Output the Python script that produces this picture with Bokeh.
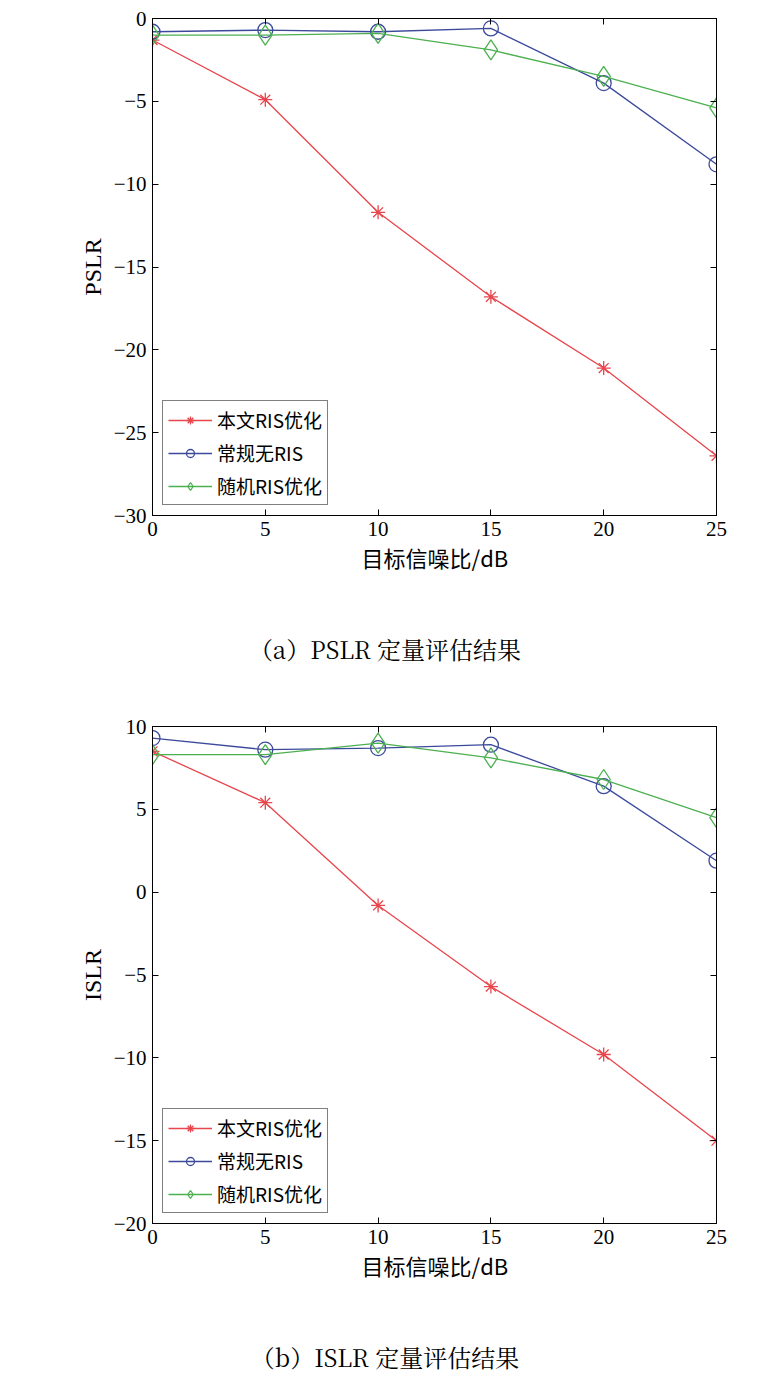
from bokeh.plotting import figure
from bokeh.layouts import column
from bokeh.models import Div, LinearAxis, Range1d, FixedTicker
from bokeh.embed import file_html
from bokeh.resources import INLINE

snr = [0, 5, 10, 15, 20, 25]
pslr_ours = [-1.3, -4.9, -11.7, -16.8, -21.1, -26.4]
pslr_noris = [-0.8, -0.7, -0.8, -0.6, -3.9, -8.8]
pslr_rand = [-1.0, -1.0, -0.9, -1.9, -3.5, -5.4]
islr_ours = [8.5, 5.4, -0.8, -5.7, -9.8, -15.0]
islr_noris = [9.3, 8.6, 8.7, 8.9, 6.4, 1.9]
islr_rand = [8.3, 8.3, 9.0, 8.1, 6.8, 4.5]
names = ["本文RIS优化", "常规无RIS", "随机RIS优化"]
xticks = [0, 5, 10, 15, 20, 25]
pslr_ticks = [-30, -25, -20, -15, -10, -5, 0]
islr_ticks = [-20, -15, -10, -5, 0, 5, 10]

RED, BLUE, GREEN = "#e8454c", "#3c4a9c", "#4cb050"
SERIF = "Liberation Serif"
CJK = "Noto Sans CJK SC"

def make(ylabel, series, yr, yt):
    p = figure(width=760, height=585, output_backend="svg", toolbar_location=None,
               x_range=Range1d(0, 25), y_range=Range1d(*yr),
               min_border_left=152, min_border_right=44, min_border_top=18, min_border_bottom=70)
    p.outline_line_color = "black"
    p.xgrid.visible = False
    p.ygrid.visible = False
    for d, c, m, sz, n in zip(series, [RED, BLUE, GREEN], ["asterisk", "circle", "diamond"], [14, 15, 20], names):
        p.line(snr, d, color=c, line_width=1.3, legend_label=n)
        p.scatter(snr, d, marker=m, size=sz, line_color=c, fill_color=None, line_width=1.3, legend_label=n)
    for ax in (p.xaxis[0], p.yaxis[0]):
        ax.major_tick_in = 6
        ax.major_tick_out = 0
        ax.minor_tick_line_color = None
        ax.major_label_text_font = SERIF
        ax.major_label_text_font_size = "21px"
        ax.major_label_text_color = "black"
        ax.axis_line_color = "black"
        ax.major_label_standoff = 6
    p.xaxis.ticker = FixedTicker(ticks=xticks)
    p.yaxis.ticker = FixedTicker(ticks=yt)
    p.xaxis.axis_label = "目标信噪比/dB"
    p.xaxis.axis_label_text_font = CJK
    p.xaxis.axis_label_text_font_style = "normal"
    p.xaxis.axis_label_text_font_size = "22px"
    p.xaxis.axis_label_text_color = "black"
    p.xaxis.axis_label_standoff = 2
    p.yaxis.axis_label = ylabel
    p.yaxis.axis_label_text_font = SERIF
    p.yaxis.axis_label_text_font_style = "normal"
    p.yaxis.axis_label_text_font_size = "24px"
    p.yaxis.axis_label_text_color = "black"
    for loc, tk in (("right", yt), ("above", xticks)):
        a = LinearAxis(ticker=FixedTicker(ticks=tk), major_label_text_font_size="0px",
                       major_tick_in=6, major_tick_out=0, minor_tick_line_color=None,
                       major_label_standoff=0)
        p.add_layout(a, loc)
    p.legend.location = "bottom_left"
    p.legend.label_text_font = CJK
    p.legend.label_text_font_size = "19px"
    p.legend.label_text_color = "black"
    p.legend.border_line_color = "black"
    p.legend.margin = 10
    p.legend.padding = 5
    p.legend.spacing = 6
    p.legend.glyph_width = 44
    return p

def cap(t, h):
    return Div(text=f'<div style="width:760px;text-align:center;font-family:\'Noto Serif CJK SC\',\'Noto Sans CJK SC\';font-size:24px;padding-top:42px">{t}</div>',
               width=760, height=h)

p1 = make("PSLR", [pslr_ours, pslr_noris, pslr_rand], (-30, 0), pslr_ticks)
p2 = make("ISLR", [islr_ours, islr_noris, islr_rand], (-20, 10), islr_ticks)
page = column(p1, cap("（a）PSLR 定量评估结果", 113), p2, cap("（b）ISLR 定量评估结果", 110), spacing=0)
open("out.html", "w").write(file_html(page, INLINE))
